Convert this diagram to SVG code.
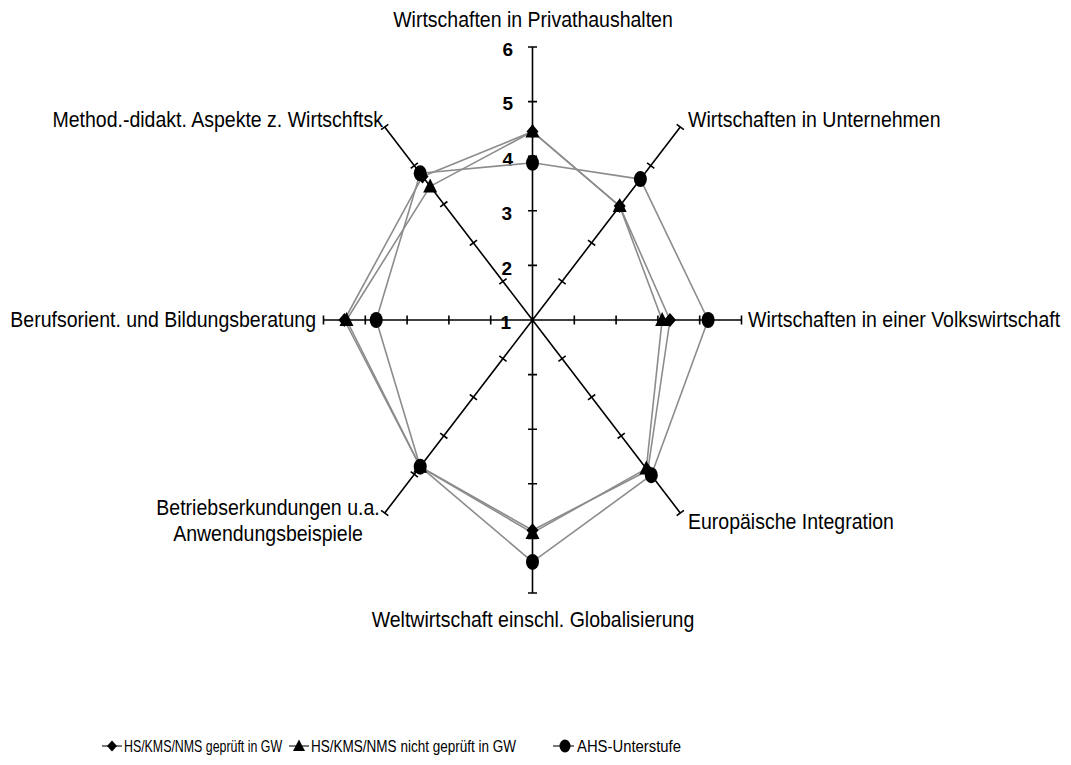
<svg xmlns="http://www.w3.org/2000/svg" width="1071" height="765" viewBox="0 0 1071 765">
<style>
text{font-family:"Liberation Sans",Arial,sans-serif;fill:#000}
.lbl{font-size:22.5px}
.num{font-size:19px;font-weight:bold;text-anchor:end}
.leg{font-size:16.5px}
.axis{stroke:#000;stroke-width:1.6;fill:none}
.ser{stroke:#8c8c8c;stroke-width:1.6;fill:none;stroke-linejoin:round}
.mk{fill:#000}
.legl{stroke:#404040;stroke-width:1.4}
</style>
<defs>
<path id="dia" d="M0,-7 L6,0 L0,7 L-6,0 Z"/>
<path id="tri" d="M0,-8 L7,6 L-7,6 Z"/>
<ellipse id="cir" rx="6.5" ry="8"/>
</defs>
<rect width="1071" height="765" fill="#fff"/>
<g id="axes">
<path class="axis" d="M532.5,320V47M532.5,320V593M532.5,320H741.5M532.5,320H323.5M532.5,320L680.3,127M532.5,320L680.3,513M532.5,320L384.7,513M532.5,320L384.7,127"/>
<path class="axis" d="M528,265.4h9M528,210.8h9M528,156.2h9M528,101.6h9M528,47h9
M528,374.6h9M528,429.2h9M528,483.8h9M528,538.4h9M528,593h9
M574.3,315.5v9M616.1,315.5v9M657.9,315.5v9M699.7,315.5v9M741.5,315.5v9
M490.7,315.5v9M448.9,315.5v9M407.1,315.5v9M365.3,315.5v9M323.5,315.5v9
M558.46,278.7l7.2,5.4M588,240.1l7.2,5.4M617.6,201.5l7.2,5.4M647.1,162.9l7.2,5.4M676.7,124.3l7.2,5.4
M558.46,361.3l7.2,-5.4M588,399.9l7.2,-5.4M617.6,438.5l7.2,-5.4M647.1,477.1l7.2,-5.4M676.7,515.7l7.2,-5.4
M499.34,355.9l7.2,5.4M469.8,394.5l7.2,5.4M440.2,433.1l7.2,5.4M410.7,471.7l7.2,5.4M381.1,510.3l7.2,5.4
M499.34,284.1l7.2,-5.4M469.8,245.5l7.2,-5.4M440.2,206.9l7.2,-5.4M410.7,168.3l7.2,-5.4M381.1,129.7l7.2,-5.4"/>
</g>
<g id="scale">
<text class="num" x="513" y="56">6</text>
<text class="num" x="513" y="110">5</text>
<text class="num" x="513" y="166">4</text>
<text class="num" x="512" y="220">3</text>
<text class="num" x="512" y="275">2</text>
<text class="num" x="511" y="329">1</text>
</g>
<g id="axis-labels">
<text class="lbl" transform="translate(533,27) scale(0.867,1)" text-anchor="middle">Wirtschaften in Privathaushalten</text>
<text class="lbl" transform="translate(688,127) scale(0.867,1)">Wirtschaften in Unternehmen</text>
<text class="lbl" transform="translate(748,327) scale(0.867,1)">Wirtschaften in einer Volkswirtschaft</text>
<text class="lbl" transform="translate(688,529) scale(0.867,1)">Europäische Integration</text>
<text class="lbl" transform="translate(533,627) scale(0.867,1)" text-anchor="middle">Weltwirtschaft einschl. Globalisierung</text>
<text class="lbl" transform="translate(268,515) scale(0.867,1)" text-anchor="middle">Betriebserkundungen u.a.</text>
<text class="lbl" transform="translate(268,541) scale(0.867,1)" text-anchor="middle">Anwendungsbeispiele</text>
<text class="lbl" transform="translate(316,327) scale(0.867,1)" text-anchor="end">Berufsorient. und Bildungsberatung</text>
<text class="lbl" transform="translate(383,127) scale(0.867,1)" text-anchor="end">Method.-didakt. Aspekte z. Wirtschftsk</text>
</g>
<g id="connectors">
<polygon class="ser" points="532.5,131.6 619.7,206.1 670,320 647.8,470.5 532.5,530.2 420.2,466.7 344.4,320 422.5,176.4"/>
<polygon class="ser" points="532.5,131.6 619.7,206.1 662.1,320 646.3,468.6 532.5,532.9 420.2,466.7 346.5,320 430.2,186.4"/>
<polygon class="ser" points="532.5,162.8 640.4,179.1 708.1,320 651.3,475.2 532.5,561.9 420.2,466.7 376.2,320 420.2,173.3"/>
</g>
<g id="series-geprueft" class="mk">
<use href="#dia" x="532.5" y="131.6"/><use href="#dia" x="619.7" y="206.1"/><use href="#dia" x="670" y="320"/><use href="#dia" x="647.8" y="470.5"/><use href="#dia" x="532.5" y="530.2"/><use href="#dia" x="420.2" y="466.7"/><use href="#dia" x="344.4" y="320"/><use href="#dia" x="422.5" y="176.4"/>
</g>
<g id="series-nicht-geprueft" class="mk">
<use href="#tri" x="532.5" y="131.6"/><use href="#tri" x="619.7" y="206.1"/><use href="#tri" x="662.1" y="320"/><use href="#tri" x="646.3" y="468.6"/><use href="#tri" x="532.5" y="532.9"/><use href="#tri" x="420.2" y="466.7"/><use href="#tri" x="346.5" y="320"/><use href="#tri" x="430.2" y="186.4"/>
</g>
<g id="series-ahs" class="mk">
<use href="#cir" x="532.5" y="162.8"/><use href="#cir" x="640.4" y="179.1"/><use href="#cir" x="708.1" y="320"/><use href="#cir" x="651.3" y="475.2"/><use href="#cir" x="532.5" y="561.9"/><use href="#cir" x="420.2" y="466.7"/><use href="#cir" x="376.2" y="320"/><use href="#cir" x="420.2" y="173.3"/>
</g>
<g id="legend">
<line class="legl" x1="102" y1="746" x2="122" y2="746"/>
<path class="mk" d="M112,740.5 L117,746 L112,751.5 L107,746 Z"/>
<text class="leg" transform="translate(124,752) scale(0.75,1)">HS/KMS/NMS geprüft in GW</text>
<line class="legl" x1="289" y1="746" x2="309" y2="746"/>
<path class="mk" d="M299,739.5 L305,751 L293,751 Z"/>
<text class="leg" transform="translate(311,752) scale(0.82,1)">HS/KMS/NMS nicht geprüft in GW</text>
<line class="legl" x1="553" y1="746" x2="574" y2="746"/>
<ellipse class="mk" cx="565" cy="746" rx="5.5" ry="6.5"/>
<text class="leg" transform="translate(577,752) scale(0.9,1)">AHS-Unterstufe</text>
</g>
</svg>
